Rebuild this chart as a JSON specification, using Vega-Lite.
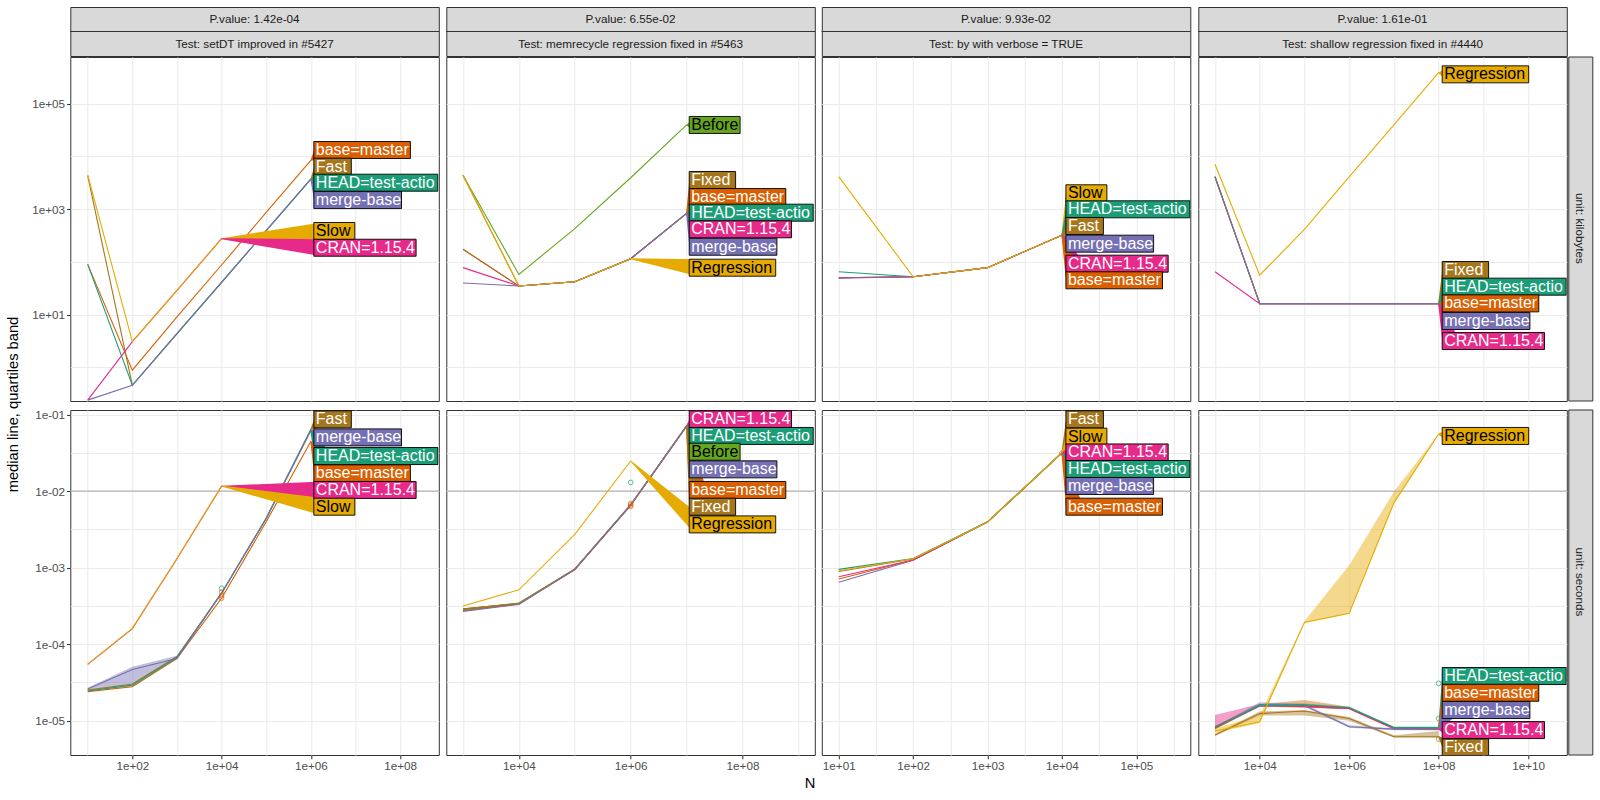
{
"$schema": "https://vega.github.io/schema/vega-lite/v6.json",
"padding": {"left": 6, "top": 6, "right": 4, "bottom": 4},
"spacing": 7.3,
"datasets": {
"strips": [
{"test":"t1","level":"P","strip":"P.value: 1.42e-04"},{"test":"t1","level":"T","strip":"Test: setDT improved in #5427"},
{"test":"t2","level":"P","strip":"P.value: 6.55e-02"},{"test":"t2","level":"T","strip":"Test: memrecycle regression fixed in #5463"},
{"test":"t3","level":"P","strip":"P.value: 9.93e-02"},{"test":"t3","level":"T","strip":"Test: by with verbose = TRUE"},
{"test":"t4","level":"P","strip":"P.value: 1.61e-01"},{"test":"t4","level":"T","strip":"Test: shallow regression fixed in #4440"}
],
"timings": [
{"test":"t1","unit":"kilobytes","version":"base=master","N":10,"median":90},
{"test":"t1","unit":"kilobytes","version":"base=master","N":100,"median":0.89},
{"test":"t1","unit":"kilobytes","version":"base=master","N":1000,"median":9.1},
{"test":"t1","unit":"kilobytes","version":"base=master","N":10000,"median":87.5},
{"test":"t1","unit":"kilobytes","version":"base=master","N":100000,"median":871},
{"test":"t1","unit":"kilobytes","version":"base=master","N":1000000,"median":8450},
{"test":"t1","unit":"kilobytes","version":"Fast","N":10,"median":4300},
{"test":"t1","unit":"kilobytes","version":"Fast","N":100,"median":0.46},
{"test":"t1","unit":"kilobytes","version":"Fast","N":1000,"median":4.36},
{"test":"t1","unit":"kilobytes","version":"Fast","N":10000,"median":41},
{"test":"t1","unit":"kilobytes","version":"Fast","N":100000,"median":391},
{"test":"t1","unit":"kilobytes","version":"Fast","N":1000000,"median":3700},
{"test":"t1","unit":"kilobytes","version":"HEAD=test-action","N":10,"median":90},
{"test":"t1","unit":"kilobytes","version":"HEAD=test-action","N":100,"median":0.46},
{"test":"t1","unit":"kilobytes","version":"HEAD=test-action","N":1000,"median":4.36},
{"test":"t1","unit":"kilobytes","version":"HEAD=test-action","N":10000,"median":41},
{"test":"t1","unit":"kilobytes","version":"HEAD=test-action","N":100000,"median":391},
{"test":"t1","unit":"kilobytes","version":"HEAD=test-action","N":1000000,"median":3700},
{"test":"t1","unit":"kilobytes","version":"merge-base","N":10,"median":0.24},
{"test":"t1","unit":"kilobytes","version":"merge-base","N":100,"median":0.46},
{"test":"t1","unit":"kilobytes","version":"merge-base","N":1000,"median":4.36},
{"test":"t1","unit":"kilobytes","version":"merge-base","N":10000,"median":41},
{"test":"t1","unit":"kilobytes","version":"merge-base","N":100000,"median":391},
{"test":"t1","unit":"kilobytes","version":"merge-base","N":1000000,"median":3700},
{"test":"t1","unit":"kilobytes","version":"CRAN=1.15.4","N":10,"median":0.24},
{"test":"t1","unit":"kilobytes","version":"CRAN=1.15.4","N":100,"median":3.08},
{"test":"t1","unit":"kilobytes","version":"CRAN=1.15.4","N":1000,"median":29},
{"test":"t1","unit":"kilobytes","version":"CRAN=1.15.4","N":10000,"median":276},
{"test":"t1","unit":"kilobytes","version":"Slow","N":10,"median":4450},
{"test":"t1","unit":"kilobytes","version":"Slow","N":100,"median":3.08},
{"test":"t1","unit":"kilobytes","version":"Slow","N":1000,"median":29},
{"test":"t1","unit":"kilobytes","version":"Slow","N":10000,"median":276},
{"test":"t1","unit":"seconds","version":"base=master","N":10,"median":2.4e-5},
{"test":"t1","unit":"seconds","version":"base=master","N":100,"median":2.78e-5},
{"test":"t1","unit":"seconds","version":"base=master","N":1000,"median":6.52e-5},
{"test":"t1","unit":"seconds","version":"base=master","N":10000,"median":3.98e-4},
{"test":"t1","unit":"seconds","version":"base=master","N":100000,"median":3.98e-3},
{"test":"t1","unit":"seconds","version":"base=master","N":1000000,"median":0.0447},
{"test":"t1","unit":"seconds","version":"Fast","N":10,"median":2.51e-5},
{"test":"t1","unit":"seconds","version":"Fast","N":100,"median":3.02e-5},
{"test":"t1","unit":"seconds","version":"Fast","N":1000,"median":6.92e-5},
{"test":"t1","unit":"seconds","version":"Fast","N":10000,"median":4.68e-4},
{"test":"t1","unit":"seconds","version":"Fast","N":100000,"median":4.47e-3},
{"test":"t1","unit":"seconds","version":"Fast","N":1000000,"median":0.0646},
{"test":"t1","unit":"seconds","version":"HEAD=test-action","N":10,"median":2.45e-5},
{"test":"t1","unit":"seconds","version":"HEAD=test-action","N":100,"median":2.92e-5},
{"test":"t1","unit":"seconds","version":"HEAD=test-action","N":1000,"median":6.76e-5},
{"test":"t1","unit":"seconds","version":"HEAD=test-action","N":10000,"median":4.61e-4},
{"test":"t1","unit":"seconds","version":"HEAD=test-action","N":100000,"median":4.37e-3},
{"test":"t1","unit":"seconds","version":"HEAD=test-action","N":1000000,"median":0.0617},
{"test":"t1","unit":"seconds","version":"merge-base","N":10,"median":2.59e-5,"q25":2.51e-5,"q75":2.69e-5},
{"test":"t1","unit":"seconds","version":"merge-base","N":100,"median":4.68e-5,"q25":2.78e-5,"q75":5.08e-5},
{"test":"t1","unit":"seconds","version":"merge-base","N":1000,"median":6.52e-5,"q25":6.31e-5,"q75":7.08e-5},
{"test":"t1","unit":"seconds","version":"merge-base","N":10000,"median":4.68e-4,"q25":4.68e-4,"q75":4.68e-4},
{"test":"t1","unit":"seconds","version":"merge-base","N":100000,"median":4.42e-3,"q25":4.42e-3,"q75":4.42e-3},
{"test":"t1","unit":"seconds","version":"merge-base","N":1000000,"median":0.0631,"q25":0.0631,"q75":0.0631},
{"test":"t1","unit":"seconds","version":"CRAN=1.15.4","N":10,"median":5.45e-5},
{"test":"t1","unit":"seconds","version":"CRAN=1.15.4","N":100,"median":1.6e-4},
{"test":"t1","unit":"seconds","version":"CRAN=1.15.4","N":1000,"median":1.31e-3},
{"test":"t1","unit":"seconds","version":"CRAN=1.15.4","N":10000,"median":0.0116},
{"test":"t1","unit":"seconds","version":"Slow","N":10,"median":5.5e-5},
{"test":"t1","unit":"seconds","version":"Slow","N":100,"median":1.61e-4},
{"test":"t1","unit":"seconds","version":"Slow","N":1000,"median":1.32e-3},
{"test":"t1","unit":"seconds","version":"Slow","N":10000,"median":0.0117},
{"test":"t2","unit":"kilobytes","version":"Before","N":1000,"median":4400},
{"test":"t2","unit":"kilobytes","version":"Before","N":10000,"median":58},
{"test":"t2","unit":"kilobytes","version":"Before","N":100000,"median":427},
{"test":"t2","unit":"kilobytes","version":"Before","N":1000000,"median":3950},
{"test":"t2","unit":"kilobytes","version":"Before","N":10000000,"median":39500},
{"test":"t2","unit":"kilobytes","version":"HEAD=test-action","N":1000,"median":174},
{"test":"t2","unit":"kilobytes","version":"HEAD=test-action","N":10000,"median":35},
{"test":"t2","unit":"kilobytes","version":"HEAD=test-action","N":100000,"median":42},
{"test":"t2","unit":"kilobytes","version":"HEAD=test-action","N":1000000,"median":115},
{"test":"t2","unit":"kilobytes","version":"HEAD=test-action","N":10000000,"median":835},
{"test":"t2","unit":"kilobytes","version":"base=master","N":1000,"median":174},
{"test":"t2","unit":"kilobytes","version":"base=master","N":10000,"median":35},
{"test":"t2","unit":"kilobytes","version":"base=master","N":100000,"median":42},
{"test":"t2","unit":"kilobytes","version":"base=master","N":1000000,"median":115},
{"test":"t2","unit":"kilobytes","version":"base=master","N":10000000,"median":835},
{"test":"t2","unit":"kilobytes","version":"CRAN=1.15.4","N":1000,"median":78},
{"test":"t2","unit":"kilobytes","version":"CRAN=1.15.4","N":10000,"median":35},
{"test":"t2","unit":"kilobytes","version":"CRAN=1.15.4","N":100000,"median":42},
{"test":"t2","unit":"kilobytes","version":"CRAN=1.15.4","N":1000000,"median":115},
{"test":"t2","unit":"kilobytes","version":"CRAN=1.15.4","N":10000000,"median":835},
{"test":"t2","unit":"kilobytes","version":"Fixed","N":1000,"median":4400},
{"test":"t2","unit":"kilobytes","version":"Fixed","N":10000,"median":35},
{"test":"t2","unit":"kilobytes","version":"Fixed","N":100000,"median":42},
{"test":"t2","unit":"kilobytes","version":"Fixed","N":1000000,"median":115},
{"test":"t2","unit":"kilobytes","version":"Fixed","N":10000000,"median":835},
{"test":"t2","unit":"kilobytes","version":"merge-base","N":1000,"median":40},
{"test":"t2","unit":"kilobytes","version":"merge-base","N":10000,"median":35},
{"test":"t2","unit":"kilobytes","version":"merge-base","N":100000,"median":42},
{"test":"t2","unit":"kilobytes","version":"merge-base","N":1000000,"median":115},
{"test":"t2","unit":"kilobytes","version":"merge-base","N":10000000,"median":835},
{"test":"t2","unit":"kilobytes","version":"Regression","N":1000,"median":4400},
{"test":"t2","unit":"kilobytes","version":"Regression","N":10000,"median":35},
{"test":"t2","unit":"kilobytes","version":"Regression","N":100000,"median":42},
{"test":"t2","unit":"kilobytes","version":"Regression","N":1000000,"median":115},
{"test":"t2","unit":"seconds","version":"HEAD=test-action","N":1000,"median":2.82e-4},
{"test":"t2","unit":"seconds","version":"HEAD=test-action","N":10000,"median":3.39e-4},
{"test":"t2","unit":"seconds","version":"HEAD=test-action","N":100000,"median":9.55e-4},
{"test":"t2","unit":"seconds","version":"HEAD=test-action","N":1000000,"median":6.61e-3},
{"test":"t2","unit":"seconds","version":"HEAD=test-action","N":10000000,"median":0.0711},
{"test":"t2","unit":"seconds","version":"base=master","N":1000,"median":2.75e-4},
{"test":"t2","unit":"seconds","version":"base=master","N":10000,"median":3.35e-4},
{"test":"t2","unit":"seconds","version":"base=master","N":100000,"median":9.4e-4},
{"test":"t2","unit":"seconds","version":"base=master","N":1000000,"median":6.5e-3},
{"test":"t2","unit":"seconds","version":"base=master","N":10000000,"median":0.070},
{"test":"t2","unit":"seconds","version":"CRAN=1.15.4","N":1000,"median":2.88e-4},
{"test":"t2","unit":"seconds","version":"CRAN=1.15.4","N":10000,"median":3.42e-4},
{"test":"t2","unit":"seconds","version":"CRAN=1.15.4","N":100000,"median":9.6e-4},
{"test":"t2","unit":"seconds","version":"CRAN=1.15.4","N":1000000,"median":6.7e-3},
{"test":"t2","unit":"seconds","version":"CRAN=1.15.4","N":10000000,"median":0.072},
{"test":"t2","unit":"seconds","version":"Before","N":1000,"median":2.85e-4},
{"test":"t2","unit":"seconds","version":"Before","N":10000,"median":3.45e-4},
{"test":"t2","unit":"seconds","version":"Before","N":100000,"median":9.55e-4},
{"test":"t2","unit":"seconds","version":"Before","N":1000000,"median":6.6e-3},
{"test":"t2","unit":"seconds","version":"Before","N":10000000,"median":0.071},
{"test":"t2","unit":"seconds","version":"Fixed","N":1000,"median":2.9e-4},
{"test":"t2","unit":"seconds","version":"Fixed","N":10000,"median":3.4e-4},
{"test":"t2","unit":"seconds","version":"Fixed","N":100000,"median":9.5e-4},
{"test":"t2","unit":"seconds","version":"Fixed","N":1000000,"median":6.55e-3},
{"test":"t2","unit":"seconds","version":"Fixed","N":10000000,"median":0.0705},
{"test":"t2","unit":"seconds","version":"merge-base","N":1000,"median":2.69e-4},
{"test":"t2","unit":"seconds","version":"merge-base","N":10000,"median":3.31e-4},
{"test":"t2","unit":"seconds","version":"merge-base","N":100000,"median":9.5e-4},
{"test":"t2","unit":"seconds","version":"merge-base","N":1000000,"median":6.6e-3},
{"test":"t2","unit":"seconds","version":"merge-base","N":10000000,"median":0.0715},
{"test":"t2","unit":"seconds","version":"Regression","N":1000,"median":3.16e-4},
{"test":"t2","unit":"seconds","version":"Regression","N":10000,"median":5.13e-4},
{"test":"t2","unit":"seconds","version":"Regression","N":100000,"median":2.72e-3},
{"test":"t2","unit":"seconds","version":"Regression","N":1000000,"median":0.0248},
{"test":"t3","unit":"kilobytes","version":"HEAD=test-action","N":10,"median":65},
{"test":"t3","unit":"kilobytes","version":"HEAD=test-action","N":100,"median":52.5},
{"test":"t3","unit":"kilobytes","version":"HEAD=test-action","N":1000,"median":78},
{"test":"t3","unit":"kilobytes","version":"HEAD=test-action","N":10000,"median":320},
{"test":"t3","unit":"kilobytes","version":"Fast","N":10,"median":50},
{"test":"t3","unit":"kilobytes","version":"Fast","N":100,"median":52.5},
{"test":"t3","unit":"kilobytes","version":"Fast","N":1000,"median":78},
{"test":"t3","unit":"kilobytes","version":"Fast","N":10000,"median":320},
{"test":"t3","unit":"kilobytes","version":"base=master","N":10,"median":50},
{"test":"t3","unit":"kilobytes","version":"base=master","N":100,"median":52.5},
{"test":"t3","unit":"kilobytes","version":"base=master","N":1000,"median":78},
{"test":"t3","unit":"kilobytes","version":"base=master","N":10000,"median":320},
{"test":"t3","unit":"kilobytes","version":"CRAN=1.15.4","N":10,"median":50},
{"test":"t3","unit":"kilobytes","version":"CRAN=1.15.4","N":100,"median":52.5},
{"test":"t3","unit":"kilobytes","version":"CRAN=1.15.4","N":1000,"median":78},
{"test":"t3","unit":"kilobytes","version":"CRAN=1.15.4","N":10000,"median":320},
{"test":"t3","unit":"kilobytes","version":"merge-base","N":10,"median":49},
{"test":"t3","unit":"kilobytes","version":"merge-base","N":100,"median":52.5},
{"test":"t3","unit":"kilobytes","version":"merge-base","N":1000,"median":78},
{"test":"t3","unit":"kilobytes","version":"merge-base","N":10000,"median":320},
{"test":"t3","unit":"kilobytes","version":"Slow","N":10,"median":4130},
{"test":"t3","unit":"kilobytes","version":"Slow","N":100,"median":52.5},
{"test":"t3","unit":"kilobytes","version":"Slow","N":1000,"median":78},
{"test":"t3","unit":"kilobytes","version":"Slow","N":10000,"median":320},
{"test":"t3","unit":"seconds","version":"merge-base","N":10,"median":6.46e-4},
{"test":"t3","unit":"seconds","version":"merge-base","N":100,"median":1.25e-3},
{"test":"t3","unit":"seconds","version":"merge-base","N":1000,"median":3.95e-3},
{"test":"t3","unit":"seconds","version":"merge-base","N":10000,"median":0.0316},
{"test":"t3","unit":"seconds","version":"base=master","N":10,"median":7.1e-4},
{"test":"t3","unit":"seconds","version":"base=master","N":100,"median":1.26e-3},
{"test":"t3","unit":"seconds","version":"base=master","N":1000,"median":3.95e-3},
{"test":"t3","unit":"seconds","version":"base=master","N":10000,"median":0.0316},
{"test":"t3","unit":"seconds","version":"CRAN=1.15.4","N":10,"median":7.6e-4},
{"test":"t3","unit":"seconds","version":"CRAN=1.15.4","N":100,"median":1.26e-3},
{"test":"t3","unit":"seconds","version":"CRAN=1.15.4","N":1000,"median":3.98e-3},
{"test":"t3","unit":"seconds","version":"CRAN=1.15.4","N":10000,"median":0.0318},
{"test":"t3","unit":"seconds","version":"Fast","N":10,"median":8.9e-4},
{"test":"t3","unit":"seconds","version":"Fast","N":100,"median":1.3e-3},
{"test":"t3","unit":"seconds","version":"Fast","N":1000,"median":3.97e-3},
{"test":"t3","unit":"seconds","version":"Fast","N":10000,"median":0.0318},
{"test":"t3","unit":"seconds","version":"HEAD=test-action","N":10,"median":9.5e-4},
{"test":"t3","unit":"seconds","version":"HEAD=test-action","N":100,"median":1.32e-3},
{"test":"t3","unit":"seconds","version":"HEAD=test-action","N":1000,"median":3.98e-3},
{"test":"t3","unit":"seconds","version":"HEAD=test-action","N":10000,"median":0.0318},
{"test":"t3","unit":"seconds","version":"Slow","N":10,"median":9.12e-4},
{"test":"t3","unit":"seconds","version":"Slow","N":100,"median":1.31e-3},
{"test":"t3","unit":"seconds","version":"Slow","N":1000,"median":3.96e-3},
{"test":"t3","unit":"seconds","version":"Slow","N":10000,"median":0.0318},
{"test":"t4","unit":"kilobytes","version":"HEAD=test-action","N":1000,"median":4130},
{"test":"t4","unit":"kilobytes","version":"HEAD=test-action","N":10000,"median":16.2},
{"test":"t4","unit":"kilobytes","version":"HEAD=test-action","N":100000,"median":16.2},
{"test":"t4","unit":"kilobytes","version":"HEAD=test-action","N":1000000,"median":16.2},
{"test":"t4","unit":"kilobytes","version":"HEAD=test-action","N":10000000,"median":16.2},
{"test":"t4","unit":"kilobytes","version":"HEAD=test-action","N":100000000,"median":16.2},
{"test":"t4","unit":"kilobytes","version":"base=master","N":1000,"median":4130},
{"test":"t4","unit":"kilobytes","version":"base=master","N":10000,"median":16.2},
{"test":"t4","unit":"kilobytes","version":"base=master","N":100000,"median":16.2},
{"test":"t4","unit":"kilobytes","version":"base=master","N":1000000,"median":16.2},
{"test":"t4","unit":"kilobytes","version":"base=master","N":10000000,"median":16.2},
{"test":"t4","unit":"kilobytes","version":"base=master","N":100000000,"median":16.2},
{"test":"t4","unit":"kilobytes","version":"Fixed","N":1000,"median":4130},
{"test":"t4","unit":"kilobytes","version":"Fixed","N":10000,"median":16.2},
{"test":"t4","unit":"kilobytes","version":"Fixed","N":100000,"median":16.2},
{"test":"t4","unit":"kilobytes","version":"Fixed","N":1000000,"median":16.2},
{"test":"t4","unit":"kilobytes","version":"Fixed","N":10000000,"median":16.2},
{"test":"t4","unit":"kilobytes","version":"Fixed","N":100000000,"median":16.2},
{"test":"t4","unit":"kilobytes","version":"CRAN=1.15.4","N":1000,"median":65},
{"test":"t4","unit":"kilobytes","version":"CRAN=1.15.4","N":10000,"median":16.2},
{"test":"t4","unit":"kilobytes","version":"CRAN=1.15.4","N":100000,"median":16.2},
{"test":"t4","unit":"kilobytes","version":"CRAN=1.15.4","N":1000000,"median":16.2},
{"test":"t4","unit":"kilobytes","version":"CRAN=1.15.4","N":10000000,"median":16.2},
{"test":"t4","unit":"kilobytes","version":"CRAN=1.15.4","N":100000000,"median":16.2},
{"test":"t4","unit":"kilobytes","version":"merge-base","N":1000,"median":4130},
{"test":"t4","unit":"kilobytes","version":"merge-base","N":10000,"median":16.2},
{"test":"t4","unit":"kilobytes","version":"merge-base","N":100000,"median":16.2},
{"test":"t4","unit":"kilobytes","version":"merge-base","N":1000000,"median":16.2},
{"test":"t4","unit":"kilobytes","version":"merge-base","N":10000000,"median":16.2},
{"test":"t4","unit":"kilobytes","version":"merge-base","N":100000000,"median":16.2},
{"test":"t4","unit":"kilobytes","version":"Regression","N":1000,"median":7100},
{"test":"t4","unit":"kilobytes","version":"Regression","N":10000,"median":56},
{"test":"t4","unit":"kilobytes","version":"Regression","N":100000,"median":416},
{"test":"t4","unit":"kilobytes","version":"Regression","N":1000000,"median":4090},
{"test":"t4","unit":"kilobytes","version":"Regression","N":10000000,"median":39800},
{"test":"t4","unit":"kilobytes","version":"Regression","N":100000000,"median":387000},
{"test":"t4","unit":"seconds","version":"Fixed","N":1000,"median":6.5e-6,"q25":6.3e-6,"q75":6.7e-6},
{"test":"t4","unit":"seconds","version":"Fixed","N":10000,"median":1.24e-5,"q25":1.17e-5,"q75":1.32e-5},
{"test":"t4","unit":"seconds","version":"Fixed","N":100000,"median":1.34e-5,"q25":1.17e-5,"q75":1.38e-5},
{"test":"t4","unit":"seconds","version":"Fixed","N":1000000,"median":1.07e-5,"q25":1.0e-5,"q75":1.12e-5},
{"test":"t4","unit":"seconds","version":"Fixed","N":10000000,"median":6.17e-6,"q25":6.03e-6,"q75":6.46e-6},
{"test":"t4","unit":"seconds","version":"Fixed","N":100000000,"median":6.17e-6,"q25":6.03e-6,"q75":7.33e-6},
{"test":"t4","unit":"seconds","version":"base=master","N":1000,"median":7.94e-6,"q25":7.7e-6,"q75":8.2e-6},
{"test":"t4","unit":"seconds","version":"base=master","N":10000,"median":1.58e-5,"q25":1.53e-5,"q75":1.65e-5},
{"test":"t4","unit":"seconds","version":"base=master","N":100000,"median":1.52e-5,"q25":1.48e-5,"q75":1.86e-5},
{"test":"t4","unit":"seconds","version":"base=master","N":1000000,"median":1.45e-5,"q25":1.41e-5,"q75":1.52e-5},
{"test":"t4","unit":"seconds","version":"base=master","N":10000000,"median":7.94e-6,"q25":7.7e-6,"q75":8.2e-6},
{"test":"t4","unit":"seconds","version":"base=master","N":100000000,"median":7.94e-6,"q25":7.7e-6,"q75":8.2e-6},
{"test":"t4","unit":"seconds","version":"CRAN=1.15.4","N":1000,"median":8.32e-6,"q25":7.94e-6,"q75":1.19e-5},
{"test":"t4","unit":"seconds","version":"CRAN=1.15.4","N":10000,"median":1.58e-5,"q25":1.53e-5,"q75":1.65e-5},
{"test":"t4","unit":"seconds","version":"CRAN=1.15.4","N":100000,"median":1.55e-5,"q25":1.5e-5,"q75":1.62e-5},
{"test":"t4","unit":"seconds","version":"CRAN=1.15.4","N":1000000,"median":1.45e-5,"q25":1.41e-5,"q75":1.5e-5},
{"test":"t4","unit":"seconds","version":"CRAN=1.15.4","N":10000000,"median":7.94e-6,"q25":7.7e-6,"q75":8.2e-6},
{"test":"t4","unit":"seconds","version":"CRAN=1.15.4","N":100000000,"median":7.76e-6,"q25":7.5e-6,"q75":8.0e-6},
{"test":"t4","unit":"seconds","version":"merge-base","N":1000,"median":8.13e-6,"q25":7.9e-6,"q75":8.4e-6},
{"test":"t4","unit":"seconds","version":"merge-base","N":10000,"median":1.58e-5,"q25":1.51e-5,"q75":1.74e-5},
{"test":"t4","unit":"seconds","version":"merge-base","N":100000,"median":1.58e-5,"q25":1.53e-5,"q75":1.66e-5},
{"test":"t4","unit":"seconds","version":"merge-base","N":1000000,"median":8.36e-6,"q25":8.1e-6,"q75":8.7e-6},
{"test":"t4","unit":"seconds","version":"merge-base","N":10000000,"median":7.76e-6,"q25":7.5e-6,"q75":8.0e-6},
{"test":"t4","unit":"seconds","version":"merge-base","N":100000000,"median":7.76e-6,"q25":7.5e-6,"q75":8.0e-6},
{"test":"t4","unit":"seconds","version":"HEAD=test-action","N":1000,"median":8.13e-6,"q25":7.9e-6,"q75":8.4e-6},
{"test":"t4","unit":"seconds","version":"HEAD=test-action","N":10000,"median":1.6e-5,"q25":1.55e-5,"q75":1.66e-5},
{"test":"t4","unit":"seconds","version":"HEAD=test-action","N":100000,"median":1.62e-5,"q25":1.57e-5,"q75":1.68e-5},
{"test":"t4","unit":"seconds","version":"HEAD=test-action","N":1000000,"median":1.48e-5,"q25":1.44e-5,"q75":1.53e-5},
{"test":"t4","unit":"seconds","version":"HEAD=test-action","N":10000000,"median":8.13e-6,"q25":7.9e-6,"q75":8.4e-6},
{"test":"t4","unit":"seconds","version":"HEAD=test-action","N":100000000,"median":8.13e-6,"q25":7.9e-6,"q75":8.4e-6},
{"test":"t4","unit":"seconds","version":"Regression","N":1000,"median":7.33e-6,"q25":6.92e-6,"q75":7.94e-6},
{"test":"t4","unit":"seconds","version":"Regression","N":10000,"median":9.7e-6,"q25":9.33e-6,"q75":1.17e-5},
{"test":"t4","unit":"seconds","version":"Regression","N":100000,"median":1.93e-4,"q25":1.91e-4,"q75":2.0e-4},
{"test":"t4","unit":"seconds","version":"Regression","N":1000000,"median":2.53e-4,"q25":2.51e-4,"q75":1.08e-3},
{"test":"t4","unit":"seconds","version":"Regression","N":10000000,"median":7.08e-3,"q25":6.76e-3,"q75":9.86e-3},
{"test":"t4","unit":"seconds","version":"Regression","N":100000000,"median":0.0558,"q25":0.055,"q75":0.0562}
],
"labels": [
{"test":"t1","unit":"kilobytes","version":"base=master","tipN":1000000,"tipY":8450,"boxN":1810000,"boxY":13240},
{"test":"t1","unit":"kilobytes","version":"Fast","tipN":1000000,"tipY":3700,"boxN":1810000,"boxY":6400},
{"test":"t1","unit":"kilobytes","version":"HEAD=test-action","tipN":1000000,"tipY":3700,"boxN":1810000,"boxY":3180},
{"test":"t1","unit":"kilobytes","version":"merge-base","tipN":1000000,"tipY":3700,"boxN":1810000,"boxY":1490},
{"test":"t1","unit":"kilobytes","version":"Slow","tipN":10000,"tipY":276,"boxN":1810000,"boxY":386},
{"test":"t1","unit":"kilobytes","version":"CRAN=1.15.4","tipN":10000,"tipY":276,"boxN":1810000,"boxY":186},
{"test":"t1","unit":"seconds","version":"Fast","tipN":1000000,"tipY":0.0646,"boxN":1810000,"boxY":0.0869},
{"test":"t1","unit":"seconds","version":"merge-base","tipN":1000000,"tipY":0.0631,"boxN":1810000,"boxY":0.0505},
{"test":"t1","unit":"seconds","version":"HEAD=test-action","tipN":1000000,"tipY":0.0617,"boxN":1810000,"boxY":0.0288},
{"test":"t1","unit":"seconds","version":"base=master","tipN":1000000,"tipY":0.0447,"boxN":1810000,"boxY":0.0171},
{"test":"t1","unit":"seconds","version":"CRAN=1.15.4","tipN":10000,"tipY":0.0116,"boxN":1810000,"boxY":0.01037},
{"test":"t1","unit":"seconds","version":"Slow","tipN":10000,"tipY":0.0117,"boxN":1810000,"boxY":0.00627},
{"test":"t2","unit":"kilobytes","version":"Before","tipN":10000000,"tipY":39500,"boxN":15800000,"boxY":39500},
{"test":"t2","unit":"kilobytes","version":"Fixed","tipN":10000000,"tipY":835,"boxN":15800000,"boxY":3580},
{"test":"t2","unit":"kilobytes","version":"base=master","tipN":10000000,"tipY":835,"boxN":15800000,"boxY":1700},
{"test":"t2","unit":"kilobytes","version":"HEAD=test-action","tipN":10000000,"tipY":835,"boxN":15800000,"boxY":859},
{"test":"t2","unit":"kilobytes","version":"CRAN=1.15.4","tipN":10000000,"tipY":835,"boxN":15800000,"boxY":416},
{"test":"t2","unit":"kilobytes","version":"merge-base","tipN":10000000,"tipY":835,"boxN":15800000,"boxY":194},
{"test":"t2","unit":"kilobytes","version":"Regression","tipN":1000000,"tipY":115,"boxN":15800000,"boxY":77.8},
{"test":"t2","unit":"seconds","version":"CRAN=1.15.4","tipN":10000000,"tipY":0.072,"boxN":15800000,"boxY":0.0869},
{"test":"t2","unit":"seconds","version":"HEAD=test-action","tipN":10000000,"tipY":0.0711,"boxN":15800000,"boxY":0.0527},
{"test":"t2","unit":"seconds","version":"Before","tipN":10000000,"tipY":0.071,"boxN":15800000,"boxY":0.0328},
{"test":"t2","unit":"seconds","version":"merge-base","tipN":10000000,"tipY":0.0715,"boxN":15800000,"boxY":0.0193},
{"test":"t2","unit":"seconds","version":"base=master","tipN":10000000,"tipY":0.070,"boxN":15800000,"boxY":0.01037},
{"test":"t2","unit":"seconds","version":"Fixed","tipN":10000000,"tipY":0.0705,"boxN":15800000,"boxY":0.00627},
{"test":"t2","unit":"seconds","version":"Regression","tipN":1000000,"tipY":0.0248,"boxN":15800000,"boxY":0.00368},
{"test":"t3","unit":"kilobytes","version":"Slow","tipN":10000,"tipY":320,"boxN":14700,"boxY":2000},
{"test":"t3","unit":"kilobytes","version":"HEAD=test-action","tipN":10000,"tipY":320,"boxN":14700,"boxY":995},
{"test":"t3","unit":"kilobytes","version":"Fast","tipN":10000,"tipY":320,"boxN":14700,"boxY":481},
{"test":"t3","unit":"kilobytes","version":"merge-base","tipN":10000,"tipY":320,"boxN":14700,"boxY":222},
{"test":"t3","unit":"kilobytes","version":"CRAN=1.15.4","tipN":10000,"tipY":320,"boxN":14700,"boxY":92.7},
{"test":"t3","unit":"kilobytes","version":"base=master","tipN":10000,"tipY":320,"boxN":14700,"boxY":44.9},
{"test":"t3","unit":"seconds","version":"Fast","tipN":10000,"tipY":0.0318,"boxN":14700,"boxY":0.0869},
{"test":"t3","unit":"seconds","version":"Slow","tipN":10000,"tipY":0.0318,"boxN":14700,"boxY":0.0516},
{"test":"t3","unit":"seconds","version":"CRAN=1.15.4","tipN":10000,"tipY":0.0318,"boxN":14700,"boxY":0.0321},
{"test":"t3","unit":"seconds","version":"HEAD=test-action","tipN":10000,"tipY":0.0318,"boxN":14700,"boxY":0.0195},
{"test":"t3","unit":"seconds","version":"merge-base","tipN":10000,"tipY":0.0316,"boxN":14700,"boxY":0.0117},
{"test":"t3","unit":"seconds","version":"base=master","tipN":10000,"tipY":0.0316,"boxN":14700,"boxY":0.00627},
{"test":"t4","unit":"kilobytes","version":"Regression","tipN":100000000,"tipY":387000,"boxN":186000000,"boxY":360000},
{"test":"t4","unit":"kilobytes","version":"Fixed","tipN":100000000,"tipY":16.2,"boxN":186000000,"boxY":70.3},
{"test":"t4","unit":"kilobytes","version":"HEAD=test-action","tipN":100000000,"tipY":16.2,"boxN":186000000,"boxY":34},
{"test":"t4","unit":"kilobytes","version":"base=master","tipN":100000000,"tipY":16.2,"boxN":186000000,"boxY":16.4},
{"test":"t4","unit":"kilobytes","version":"merge-base","tipN":100000000,"tipY":16.2,"boxN":186000000,"boxY":7.6},
{"test":"t4","unit":"kilobytes","version":"CRAN=1.15.4","tipN":100000000,"tipY":16.2,"boxN":186000000,"boxY":3.17},
{"test":"t4","unit":"seconds","version":"Regression","tipN":100000000,"tipY":0.0558,"boxN":186000000,"boxY":0.0527},
{"test":"t4","unit":"seconds","version":"HEAD=test-action","tipN":100000000,"tipY":8.13e-6,"boxN":186000000,"boxY":3.84e-5},
{"test":"t4","unit":"seconds","version":"base=master","tipN":100000000,"tipY":7.94e-6,"boxN":186000000,"boxY":2.32e-5},
{"test":"t4","unit":"seconds","version":"merge-base","tipN":100000000,"tipY":7.76e-6,"boxN":186000000,"boxY":1.38e-5},
{"test":"t4","unit":"seconds","version":"CRAN=1.15.4","tipN":100000000,"tipY":7.76e-6,"boxN":186000000,"boxY":7.55e-6},
{"test":"t4","unit":"seconds","version":"Fixed","tipN":100000000,"tipY":6.17e-6,"boxN":186000000,"boxY":4.48e-6}
],
"points": [
{"test":"t1","unit":"seconds","version":"HEAD=test-action","N":10000,"value":5.37e-4},
{"test":"t1","unit":"seconds","version":"base=master","N":10000,"value":4.8e-4},
{"test":"t1","unit":"seconds","version":"base=master","N":10000,"value":4.3e-4},
{"test":"t1","unit":"seconds","version":"base=master","N":10000,"value":4.0e-4},
{"test":"t2","unit":"seconds","version":"HEAD=test-action","N":1000000,"value":0.013},
{"test":"t2","unit":"seconds","version":"base=master","N":1000000,"value":0.0063},
{"test":"t2","unit":"seconds","version":"base=master","N":1000000,"value":0.0066},
{"test":"t2","unit":"seconds","version":"base=master","N":1000000,"value":0.0069},
{"test":"t3","unit":"seconds","version":"base=master","N":10000,"value":0.0316},
{"test":"t4","unit":"seconds","version":"HEAD=test-action","N":100000000,"value":3.08e-5},
{"test":"t4","unit":"seconds","version":"HEAD=test-action","N":100000000,"value":1.07e-5},
{"test":"t4","unit":"seconds","version":"Fixed","N":100000000,"value":5.75e-6}
]
},
"hconcat": [
{"vconcat": [
  {"width":16,"height":49,"view":{"stroke":null},"data":{"values":[{"t":""}]},"mark":"text","encoding":{"text":{"field":"t"}}},
  {"width":16,"height":697,"view":{"stroke":null},"data":{"values":[{"t":"median line, quartiles band"}]},"mark":{"type":"text","angle":270,"fontSize":14.7,"color":"#000000"},"encoding":{"text":{"field":"t"}}}
 ], "spacing": 0},
{"hconcat": [
 {"vconcat": [
  {"width":368.5,"height":49,"data":{"name":"strips"},"transform":[{"filter":"datum.test == 't1'"}],"view":{"fill":"#D9D9D9","stroke":"#333333"},
   "layer":[
    {"mark":{"type":"rule","color":"#333333","strokeWidth":1},"encoding":{"y":{"datum":"T","type":"nominal","bandPosition":0,"scale":{"type":"band","domain":["P","T"],"paddingInner":0,"paddingOuter":0}}}},
    {"mark":{"type":"text","fontSize":11.7,"color":"#1A1A1A"},"encoding":{"y":{"field":"level","type":"nominal","axis":{"labels":false,"ticks":false,"grid":false,"domain":false,"title":null,"minExtent":40,"maxExtent":40}},"text":{"field":"strip"}}}
   ]},
  {"vconcat": [
   {"width":368.5,"height":344,"layer":[
    {"data":{"name":"timings"},"transform":[{"filter":"datum.test == 't1' && datum.unit == 'kilobytes'"}],"mark":{"type":"line","strokeWidth":1.1,"clip":true},
     "encoding":{"x":{"field":"N","type":"quantitative","scale":{"type":"log","domain":[4.07,738000000],"nice":false},"axis":{"values":[10,100,1000,10000,100000,1000000,10000000,100000000],"labels":false,"ticks":false,"title":null,"minExtent":0,"maxExtent":0}},
      "y":{"field":"median","type":"quantitative","scale":{"type":"log","domain":[0.2312,767400],"nice":false},"axis":{"values":[1,10,100,1000,10000,100000],"labelExpr":"round(log(datum.value)/LN10) % 2 == 1 ? '1e+0' + round(log(datum.value)/LN10) : ''","tickOpacity":{"condition":{"test":"round(log(datum.value)/LN10) % 2 == 1","value":1},"value":0},"title":null,"minExtent":40,"maxExtent":40}},
      "color":{"field":"version","type":"nominal","scale":{"domain":["HEAD=test-action","base=master","merge-base","CRAN=1.15.4","Before","Regression","Fixed","Slow","Fast"],"range":["#1B9E77","#D95F02","#7570B3","#E7298A","#66A61E","#E6AB02","#A6761D","#E6AB02","#A6761D"]},"legend":null}}},
    {"data":{"name":"labels"},"transform":[{"filter":"datum.test == 't1' && datum.unit == 'kilobytes'"},{"fold":["tipN","boxN"],"as":["endN","px"]},{"fold":["tipY","boxY"],"as":["endY","py"]},{"filter":"(datum.endN == 'tipN' && datum.endY == 'tipY') || (datum.endN == 'boxN' && datum.endY == 'boxY')"}],
     "mark":{"type":"trail","clip":true},
     "encoding":{"x":{"field":"px","type":"quantitative"},"y":{"field":"py","type":"quantitative"},"size":{"field":"endN","type":"ordinal","scale":{"domain":["tipN","boxN"],"range":[0,17]},"legend":null},"color":{"field":"version","type":"nominal","legend":null},"detail":{"field":"version","type":"nominal"}}},
    {"data":{"name":"labels"},"transform":[{"filter":"datum.test == 't1' && datum.unit == 'kilobytes'"}],
     "mark":{"type":"rect","clip":true,"stroke":"#000000","strokeWidth":0.9,"xOffset":-8.5,"yOffset":-8.5,"y2Offset":8.5,"x2Offset":{"expr":"min(115.5, 8.9*length(datum.version) - 4.4*length(replace(datum.version, regexp('[^-filrt.]','g'), '')) + 2.3*length(replace(datum.version, regexp('[^A-Z]','g'), '')) + 3.5*length(replace(datum.version, regexp('[^mw]','g'), '')) - 4.5)"}},
     "encoding":{"x":{"field":"boxN","type":"quantitative"},"x2":{"field":"boxN"},"y":{"field":"boxY","type":"quantitative"},"y2":{"field":"boxY"},"color":{"field":"version","type":"nominal","legend":null}}},
    {"data":{"name":"labels"},"transform":[{"filter":"datum.test == 't1' && datum.unit == 'kilobytes'"}],
     "mark":{"type":"text","clip":true,"align":"left","baseline":"middle","dx":-6.5,"fontSize":16,"limit":122,"ellipsis":"\u200b"},
     "encoding":{"x":{"field":"boxN","type":"quantitative"},"y":{"field":"boxY","type":"quantitative"},"text":{"field":"version"},"color":{"condition":{"test":"datum.version == 'Slow' || datum.version == 'Regression' || datum.version == 'Before'","value":"#000000"},"value":"#FFFFFF"}}}
   ]},
   {"width":368.5,"height":345,"layer":[
    {"data":{"name":"timings"},"transform":[{"filter":"datum.test == 't1' && datum.unit == 'seconds' && isValid(datum.q25)"}],"mark":{"type":"area","opacity":0.45,"clip":true},
     "encoding":{"x":{"field":"N","type":"quantitative","scale":{"type":"log","domain":[4.07,738000000],"nice":false},"axis":{"values":[10,100,1000,10000,100000,1000000,10000000,100000000],"labelExpr":"round(log(datum.value)/LN10) % 2 == 0 ? '1e+0' + round(log(datum.value)/LN10) : ''","tickOpacity":{"condition":{"test":"round(log(datum.value)/LN10) % 2 == 0","value":1},"value":0},"title":null}},
      "y":{"field":"q25","type":"quantitative","scale":{"type":"log","domain":[0.000003565,0.1151],"nice":false},"axis":{"values":[0.00001,0.000031623,0.0001,0.00031623,0.001,0.0031623,0.01,0.031623,0.1],"labelExpr":"abs(log(datum.value)/LN10 - round(log(datum.value)/LN10)) < 0.01 ? '1e-0' + abs(round(log(datum.value)/LN10)) : ''","tickOpacity":{"condition":{"test":"abs(log(datum.value)/LN10 - round(log(datum.value)/LN10)) < 0.01","value":1},"value":0},"title":null,"minExtent":40,"maxExtent":40}},
      "y2":{"field":"q75"},
      "color":{"field":"version","type":"nominal","scale":{"domain":["HEAD=test-action","base=master","merge-base","CRAN=1.15.4","Before","Regression","Fixed","Slow","Fast"],"range":["#1B9E77","#D95F02","#7570B3","#E7298A","#66A61E","#E6AB02","#A6761D","#E6AB02","#A6761D"]},"legend":null}}},
    {"data":{"values":[{}]},"mark":{"type":"rule","color":"#B3B3B3","strokeWidth":1.2},"encoding":{"y":{"datum":0.01}}},
    {"data":{"name":"timings"},"transform":[{"filter":"datum.test == 't1' && datum.unit == 'seconds'"}],"mark":{"type":"line","strokeWidth":1.1,"clip":true},
     "encoding":{"x":{"field":"N","type":"quantitative"},"y":{"field":"median","type":"quantitative"},"color":{"field":"version","type":"nominal","legend":null}}},
    {"data":{"name":"points"},"transform":[{"filter":"datum.test == 't1'"}],"mark":{"type":"point","shape":"circle","filled":false,"size":22,"strokeWidth":1,"clip":true},
     "encoding":{"x":{"field":"N","type":"quantitative"},"y":{"field":"value","type":"quantitative"},"color":{"field":"version","type":"nominal","legend":null}}},
    {"data":{"name":"labels"},"transform":[{"filter":"datum.test == 't1' && datum.unit == 'seconds'"},{"fold":["tipN","boxN"],"as":["endN","px"]},{"fold":["tipY","boxY"],"as":["endY","py"]},{"filter":"(datum.endN == 'tipN' && datum.endY == 'tipY') || (datum.endN == 'boxN' && datum.endY == 'boxY')"}],
     "mark":{"type":"trail","clip":true},
     "encoding":{"x":{"field":"px","type":"quantitative"},"y":{"field":"py","type":"quantitative"},"size":{"field":"endN","type":"ordinal","scale":{"domain":["tipN","boxN"],"range":[0,17]},"legend":null},"color":{"field":"version","type":"nominal","legend":null},"detail":{"field":"version","type":"nominal"}}},
    {"data":{"name":"labels"},"transform":[{"filter":"datum.test == 't1' && datum.unit == 'seconds'"}],
     "mark":{"type":"rect","clip":true,"stroke":"#000000","strokeWidth":0.9,"xOffset":-8.5,"yOffset":-8.5,"y2Offset":8.5,"x2Offset":{"expr":"min(115.5, 8.9*length(datum.version) - 4.4*length(replace(datum.version, regexp('[^-filrt.]','g'), '')) + 2.3*length(replace(datum.version, regexp('[^A-Z]','g'), '')) + 3.5*length(replace(datum.version, regexp('[^mw]','g'), '')) - 4.5)"}},
     "encoding":{"x":{"field":"boxN","type":"quantitative"},"x2":{"field":"boxN"},"y":{"field":"boxY","type":"quantitative"},"y2":{"field":"boxY"},"color":{"field":"version","type":"nominal","legend":null}}},
    {"data":{"name":"labels"},"transform":[{"filter":"datum.test == 't1' && datum.unit == 'seconds'"}],
     "mark":{"type":"text","clip":true,"align":"left","baseline":"middle","dx":-6.5,"fontSize":16,"limit":122,"ellipsis":"\u200b"},
     "encoding":{"x":{"field":"boxN","type":"quantitative"},"y":{"field":"boxY","type":"quantitative"},"text":{"field":"version"},"color":{"condition":{"test":"datum.version == 'Slow' || datum.version == 'Regression' || datum.version == 'Before'","value":"#000000"},"value":"#FFFFFF"}}}
   ]}
  ], "spacing": 7}
 ], "spacing": -1},
 {"hconcat": [
 {"vconcat": [
  {"width":368.5,"height":49,"data":{"name":"strips"},"transform":[{"filter":"datum.test == 't2'"}],"view":{"fill":"#D9D9D9","stroke":"#333333"},
   "layer":[
    {"mark":{"type":"rule","color":"#333333","strokeWidth":1},"encoding":{"y":{"datum":"T","type":"nominal","bandPosition":0,"scale":{"type":"band","domain":["P","T"],"paddingInner":0,"paddingOuter":0},"axis":null}}},
    {"mark":{"type":"text","fontSize":11.7,"color":"#1A1A1A"},"encoding":{"y":{"field":"level","type":"nominal","axis":null},"text":{"field":"strip"}}}
   ]},
  {"vconcat": [
   {"width":368.5,"height":344,"layer":[
    {"data":{"name":"timings"},"transform":[{"filter":"datum.test == 't2' && datum.unit == 'kilobytes'"}],"mark":{"type":"line","strokeWidth":1.1,"clip":true},
     "encoding":{"x":{"field":"N","type":"quantitative","scale":{"type":"log","domain":[503.5,1963000000],"nice":false},"axis":{"values":[1000,10000,100000,1000000,10000000,100000000,1000000000],"labels":false,"ticks":false,"title":null,"minExtent":0,"maxExtent":0}},
      "y":{"field":"median","type":"quantitative","scale":{"type":"log","domain":[0.2312,767400],"nice":false},"axis":{"values":[1,10,100,1000,10000,100000],"labels":false,"ticks":false,"title":null,"minExtent":0,"maxExtent":0}},
      "color":{"field":"version","type":"nominal","scale":{"domain":["HEAD=test-action","base=master","merge-base","CRAN=1.15.4","Before","Regression","Fixed","Slow","Fast"],"range":["#1B9E77","#D95F02","#7570B3","#E7298A","#66A61E","#E6AB02","#A6761D","#E6AB02","#A6761D"]},"legend":null}}},
    {"data":{"name":"labels"},"transform":[{"filter":"datum.test == 't2' && datum.unit == 'kilobytes'"},{"fold":["tipN","boxN"],"as":["endN","px"]},{"fold":["tipY","boxY"],"as":["endY","py"]},{"filter":"(datum.endN == 'tipN' && datum.endY == 'tipY') || (datum.endN == 'boxN' && datum.endY == 'boxY')"}],
     "mark":{"type":"trail","clip":true},
     "encoding":{"x":{"field":"px","type":"quantitative"},"y":{"field":"py","type":"quantitative"},"size":{"field":"endN","type":"ordinal","scale":{"domain":["tipN","boxN"],"range":[0,17]},"legend":null},"color":{"field":"version","type":"nominal","legend":null},"detail":{"field":"version","type":"nominal"}}},
    {"data":{"name":"labels"},"transform":[{"filter":"datum.test == 't2' && datum.unit == 'kilobytes'"}],
     "mark":{"type":"rect","clip":true,"stroke":"#000000","strokeWidth":0.9,"xOffset":-8.5,"yOffset":-8.5,"y2Offset":8.5,"x2Offset":{"expr":"min(115.5, 8.9*length(datum.version) - 4.4*length(replace(datum.version, regexp('[^-filrt.]','g'), '')) + 2.3*length(replace(datum.version, regexp('[^A-Z]','g'), '')) + 3.5*length(replace(datum.version, regexp('[^mw]','g'), '')) - 4.5)"}},
     "encoding":{"x":{"field":"boxN","type":"quantitative"},"x2":{"field":"boxN"},"y":{"field":"boxY","type":"quantitative"},"y2":{"field":"boxY"},"color":{"field":"version","type":"nominal","legend":null}}},
    {"data":{"name":"labels"},"transform":[{"filter":"datum.test == 't2' && datum.unit == 'kilobytes'"}],
     "mark":{"type":"text","clip":true,"align":"left","baseline":"middle","dx":-6.5,"fontSize":16,"limit":122,"ellipsis":"\u200b"},
     "encoding":{"x":{"field":"boxN","type":"quantitative"},"y":{"field":"boxY","type":"quantitative"},"text":{"field":"version"},"color":{"condition":{"test":"datum.version == 'Slow' || datum.version == 'Regression' || datum.version == 'Before'","value":"#000000"},"value":"#FFFFFF"}}}
   ]},
   {"width":368.5,"height":345,"layer":[
    {"data":{"values":[{}]},"mark":{"type":"rule","color":"#B3B3B3","strokeWidth":1.2},
     "encoding":{"y":{"datum":0.01,"type":"quantitative","scale":{"type":"log","domain":[0.000003565,0.1151],"nice":false},"axis":{"values":[0.00001,0.000031623,0.0001,0.00031623,0.001,0.0031623,0.01,0.031623,0.1],"labels":false,"ticks":false,"title":null,"minExtent":0,"maxExtent":0}}}},
    {"data":{"name":"timings"},"transform":[{"filter":"datum.test == 't2' && datum.unit == 'seconds'"}],"mark":{"type":"line","strokeWidth":1.1,"clip":true},
     "encoding":{"x":{"field":"N","type":"quantitative","scale":{"type":"log","domain":[503.5,1963000000],"nice":false},"axis":{"values":[1000,10000,100000,1000000,10000000,100000000,1000000000],"labelExpr":"round(log(datum.value)/LN10) % 2 == 0 ? '1e+0' + round(log(datum.value)/LN10) : ''","tickOpacity":{"condition":{"test":"round(log(datum.value)/LN10) % 2 == 0","value":1},"value":0},"title":"N","titleX":363.2,"titleY":28.4,"titleAlign":"center","titleBaseline":"middle"}},
      "y":{"field":"median","type":"quantitative"},
      "color":{"field":"version","type":"nominal","scale":{"domain":["HEAD=test-action","base=master","merge-base","CRAN=1.15.4","Before","Regression","Fixed","Slow","Fast"],"range":["#1B9E77","#D95F02","#7570B3","#E7298A","#66A61E","#E6AB02","#A6761D","#E6AB02","#A6761D"]},"legend":null}}},
    {"data":{"name":"points"},"transform":[{"filter":"datum.test == 't2'"}],"mark":{"type":"point","shape":"circle","filled":false,"size":22,"strokeWidth":1,"clip":true},
     "encoding":{"x":{"field":"N","type":"quantitative"},"y":{"field":"value","type":"quantitative"},"color":{"field":"version","type":"nominal","legend":null}}},
    {"data":{"name":"labels"},"transform":[{"filter":"datum.test == 't2' && datum.unit == 'seconds'"},{"fold":["tipN","boxN"],"as":["endN","px"]},{"fold":["tipY","boxY"],"as":["endY","py"]},{"filter":"(datum.endN == 'tipN' && datum.endY == 'tipY') || (datum.endN == 'boxN' && datum.endY == 'boxY')"}],
     "mark":{"type":"trail","clip":true},
     "encoding":{"x":{"field":"px","type":"quantitative"},"y":{"field":"py","type":"quantitative"},"size":{"field":"endN","type":"ordinal","scale":{"domain":["tipN","boxN"],"range":[0,17]},"legend":null},"color":{"field":"version","type":"nominal","legend":null},"detail":{"field":"version","type":"nominal"}}},
    {"data":{"name":"labels"},"transform":[{"filter":"datum.test == 't2' && datum.unit == 'seconds'"}],
     "mark":{"type":"rect","clip":true,"stroke":"#000000","strokeWidth":0.9,"xOffset":-8.5,"yOffset":-8.5,"y2Offset":8.5,"x2Offset":{"expr":"min(115.5, 8.9*length(datum.version) - 4.4*length(replace(datum.version, regexp('[^-filrt.]','g'), '')) + 2.3*length(replace(datum.version, regexp('[^A-Z]','g'), '')) + 3.5*length(replace(datum.version, regexp('[^mw]','g'), '')) - 4.5)"}},
     "encoding":{"x":{"field":"boxN","type":"quantitative"},"x2":{"field":"boxN"},"y":{"field":"boxY","type":"quantitative"},"y2":{"field":"boxY"},"color":{"field":"version","type":"nominal","legend":null}}},
    {"data":{"name":"labels"},"transform":[{"filter":"datum.test == 't2' && datum.unit == 'seconds'"}],
     "mark":{"type":"text","clip":true,"align":"left","baseline":"middle","dx":-6.5,"fontSize":16,"limit":122,"ellipsis":"\u200b"},
     "encoding":{"x":{"field":"boxN","type":"quantitative"},"y":{"field":"boxY","type":"quantitative"},"text":{"field":"version"},"color":{"condition":{"test":"datum.version == 'Slow' || datum.version == 'Regression' || datum.version == 'Before'","value":"#000000"},"value":"#FFFFFF"}}}
   ]}
  ], "spacing": 7}
 ], "spacing": -1},
 {"vconcat": [
  {"width":368.5,"height":49,"data":{"name":"strips"},"transform":[{"filter":"datum.test == 't3'"}],"view":{"fill":"#D9D9D9","stroke":"#333333"},
   "layer":[
    {"mark":{"type":"rule","color":"#333333","strokeWidth":1},"encoding":{"y":{"datum":"T","type":"nominal","bandPosition":0,"scale":{"type":"band","domain":["P","T"],"paddingInner":0,"paddingOuter":0},"axis":null}}},
    {"mark":{"type":"text","fontSize":11.7,"color":"#1A1A1A"},"encoding":{"y":{"field":"level","type":"nominal","axis":null},"text":{"field":"strip"}}}
   ]},
  {"vconcat": [
   {"width":368.5,"height":344,"layer":[
    {"data":{"name":"timings"},"transform":[{"filter":"datum.test == 't3' && datum.unit == 'kilobytes'"}],"mark":{"type":"line","strokeWidth":1.1,"clip":true},
     "encoding":{"x":{"field":"N","type":"quantitative","scale":{"type":"log","domain":[5.92,531000],"nice":false},"axis":{"values":[10,31.623,100,316.23,1000,3162.3,10000,31623,100000,316228],"labels":false,"ticks":false,"title":null,"minExtent":0,"maxExtent":0}},
      "y":{"field":"median","type":"quantitative","scale":{"type":"log","domain":[0.2312,767400],"nice":false},"axis":{"values":[1,10,100,1000,10000,100000],"labels":false,"ticks":false,"title":null,"minExtent":0,"maxExtent":0}},
      "color":{"field":"version","type":"nominal","scale":{"domain":["HEAD=test-action","base=master","merge-base","CRAN=1.15.4","Before","Regression","Fixed","Slow","Fast"],"range":["#1B9E77","#D95F02","#7570B3","#E7298A","#66A61E","#E6AB02","#A6761D","#E6AB02","#A6761D"]},"legend":null}}},
    {"data":{"name":"labels"},"transform":[{"filter":"datum.test == 't3' && datum.unit == 'kilobytes'"},{"fold":["tipN","boxN"],"as":["endN","px"]},{"fold":["tipY","boxY"],"as":["endY","py"]},{"filter":"(datum.endN == 'tipN' && datum.endY == 'tipY') || (datum.endN == 'boxN' && datum.endY == 'boxY')"}],
     "mark":{"type":"trail","clip":true},
     "encoding":{"x":{"field":"px","type":"quantitative"},"y":{"field":"py","type":"quantitative"},"size":{"field":"endN","type":"ordinal","scale":{"domain":["tipN","boxN"],"range":[0,17]},"legend":null},"color":{"field":"version","type":"nominal","legend":null},"detail":{"field":"version","type":"nominal"}}},
    {"data":{"name":"labels"},"transform":[{"filter":"datum.test == 't3' && datum.unit == 'kilobytes'"}],
     "mark":{"type":"rect","clip":true,"stroke":"#000000","strokeWidth":0.9,"xOffset":-8.5,"yOffset":-8.5,"y2Offset":8.5,"x2Offset":{"expr":"min(115.5, 8.9*length(datum.version) - 4.4*length(replace(datum.version, regexp('[^-filrt.]','g'), '')) + 2.3*length(replace(datum.version, regexp('[^A-Z]','g'), '')) + 3.5*length(replace(datum.version, regexp('[^mw]','g'), '')) - 4.5)"}},
     "encoding":{"x":{"field":"boxN","type":"quantitative"},"x2":{"field":"boxN"},"y":{"field":"boxY","type":"quantitative"},"y2":{"field":"boxY"},"color":{"field":"version","type":"nominal","legend":null}}},
    {"data":{"name":"labels"},"transform":[{"filter":"datum.test == 't3' && datum.unit == 'kilobytes'"}],
     "mark":{"type":"text","clip":true,"align":"left","baseline":"middle","dx":-6.5,"fontSize":16,"limit":122,"ellipsis":"\u200b"},
     "encoding":{"x":{"field":"boxN","type":"quantitative"},"y":{"field":"boxY","type":"quantitative"},"text":{"field":"version"},"color":{"condition":{"test":"datum.version == 'Slow' || datum.version == 'Regression' || datum.version == 'Before'","value":"#000000"},"value":"#FFFFFF"}}}
   ]},
   {"width":368.5,"height":345,"layer":[
    {"data":{"values":[{}]},"mark":{"type":"rule","color":"#B3B3B3","strokeWidth":1.2},
     "encoding":{"y":{"datum":0.01,"type":"quantitative","scale":{"type":"log","domain":[0.000003565,0.1151],"nice":false},"axis":{"values":[0.00001,0.000031623,0.0001,0.00031623,0.001,0.0031623,0.01,0.031623,0.1],"labels":false,"ticks":false,"title":null,"minExtent":0,"maxExtent":0}}}},
    {"data":{"name":"timings"},"transform":[{"filter":"datum.test == 't3' && datum.unit == 'seconds'"}],"mark":{"type":"line","strokeWidth":1.1,"clip":true},
     "encoding":{"x":{"field":"N","type":"quantitative","scale":{"type":"log","domain":[5.92,531000],"nice":false},"axis":{"values":[10,31.623,100,316.23,1000,3162.3,10000,31623,100000,316228],"labelExpr":"abs(log(datum.value)/LN10 - round(log(datum.value)/LN10)) < 0.01 ? '1e+0' + round(log(datum.value)/LN10) : ''","tickOpacity":{"condition":{"test":"abs(log(datum.value)/LN10 - round(log(datum.value)/LN10)) < 0.01","value":1},"value":0},"title":null}},
      "y":{"field":"median","type":"quantitative"},
      "color":{"field":"version","type":"nominal","scale":{"domain":["HEAD=test-action","base=master","merge-base","CRAN=1.15.4","Before","Regression","Fixed","Slow","Fast"],"range":["#1B9E77","#D95F02","#7570B3","#E7298A","#66A61E","#E6AB02","#A6761D","#E6AB02","#A6761D"]},"legend":null}}},
    {"data":{"name":"points"},"transform":[{"filter":"datum.test == 't3'"}],"mark":{"type":"point","shape":"circle","filled":false,"size":22,"strokeWidth":1,"clip":true},
     "encoding":{"x":{"field":"N","type":"quantitative"},"y":{"field":"value","type":"quantitative"},"color":{"field":"version","type":"nominal","legend":null}}},
    {"data":{"name":"labels"},"transform":[{"filter":"datum.test == 't3' && datum.unit == 'seconds'"},{"fold":["tipN","boxN"],"as":["endN","px"]},{"fold":["tipY","boxY"],"as":["endY","py"]},{"filter":"(datum.endN == 'tipN' && datum.endY == 'tipY') || (datum.endN == 'boxN' && datum.endY == 'boxY')"}],
     "mark":{"type":"trail","clip":true},
     "encoding":{"x":{"field":"px","type":"quantitative"},"y":{"field":"py","type":"quantitative"},"size":{"field":"endN","type":"ordinal","scale":{"domain":["tipN","boxN"],"range":[0,17]},"legend":null},"color":{"field":"version","type":"nominal","legend":null},"detail":{"field":"version","type":"nominal"}}},
    {"data":{"name":"labels"},"transform":[{"filter":"datum.test == 't3' && datum.unit == 'seconds'"}],
     "mark":{"type":"rect","clip":true,"stroke":"#000000","strokeWidth":0.9,"xOffset":-8.5,"yOffset":-8.5,"y2Offset":8.5,"x2Offset":{"expr":"min(115.5, 8.9*length(datum.version) - 4.4*length(replace(datum.version, regexp('[^-filrt.]','g'), '')) + 2.3*length(replace(datum.version, regexp('[^A-Z]','g'), '')) + 3.5*length(replace(datum.version, regexp('[^mw]','g'), '')) - 4.5)"}},
     "encoding":{"x":{"field":"boxN","type":"quantitative"},"x2":{"field":"boxN"},"y":{"field":"boxY","type":"quantitative"},"y2":{"field":"boxY"},"color":{"field":"version","type":"nominal","legend":null}}},
    {"data":{"name":"labels"},"transform":[{"filter":"datum.test == 't3' && datum.unit == 'seconds'"}],
     "mark":{"type":"text","clip":true,"align":"left","baseline":"middle","dx":-6.5,"fontSize":16,"limit":122,"ellipsis":"\u200b"},
     "encoding":{"x":{"field":"boxN","type":"quantitative"},"y":{"field":"boxY","type":"quantitative"},"text":{"field":"version"},"color":{"condition":{"test":"datum.version == 'Slow' || datum.version == 'Regression' || datum.version == 'Before'","value":"#000000"},"value":"#FFFFFF"}}}
   ]}
  ], "spacing": 7}
 ], "spacing": -1}
 ], "spacing": 3.5},
 {"hconcat": [
 {"vconcat": [
  {"width":368.5,"height":49,"data":{"name":"strips"},"transform":[{"filter":"datum.test == 't4'"}],"view":{"fill":"#D9D9D9","stroke":"#333333"},
   "layer":[
    {"mark":{"type":"rule","color":"#333333","strokeWidth":1},"encoding":{"y":{"datum":"T","type":"nominal","bandPosition":0,"scale":{"type":"band","domain":["P","T"],"paddingInner":0,"paddingOuter":0},"axis":null}}},
    {"mark":{"type":"text","fontSize":11.7,"color":"#1A1A1A"},"encoding":{"y":{"field":"level","type":"nominal","axis":null},"text":{"field":"strip"}}}
   ]},
  {"vconcat": [
   {"width":368.5,"height":344,"layer":[
    {"data":{"name":"timings"},"transform":[{"filter":"datum.test == 't4' && datum.unit == 'kilobytes'"}],"mark":{"type":"line","strokeWidth":1.1,"clip":true},
     "encoding":{"x":{"field":"N","type":"quantitative","scale":{"type":"log","domain":[423.6,73300000000],"nice":false},"axis":{"values":[1000,10000,100000,1000000,10000000,100000000,1000000000,10000000000],"labels":false,"ticks":false,"title":null,"minExtent":0,"maxExtent":0}},
      "y":{"field":"median","type":"quantitative","scale":{"type":"log","domain":[0.2312,767400],"nice":false},"axis":{"values":[1,10,100,1000,10000,100000],"labels":false,"ticks":false,"title":null,"minExtent":0,"maxExtent":0}},
      "color":{"field":"version","type":"nominal","scale":{"domain":["HEAD=test-action","base=master","merge-base","CRAN=1.15.4","Before","Regression","Fixed","Slow","Fast"],"range":["#1B9E77","#D95F02","#7570B3","#E7298A","#66A61E","#E6AB02","#A6761D","#E6AB02","#A6761D"]},"legend":null}}},
    {"data":{"name":"labels"},"transform":[{"filter":"datum.test == 't4' && datum.unit == 'kilobytes'"},{"fold":["tipN","boxN"],"as":["endN","px"]},{"fold":["tipY","boxY"],"as":["endY","py"]},{"filter":"(datum.endN == 'tipN' && datum.endY == 'tipY') || (datum.endN == 'boxN' && datum.endY == 'boxY')"}],
     "mark":{"type":"trail","clip":true},
     "encoding":{"x":{"field":"px","type":"quantitative"},"y":{"field":"py","type":"quantitative"},"size":{"field":"endN","type":"ordinal","scale":{"domain":["tipN","boxN"],"range":[0,17]},"legend":null},"color":{"field":"version","type":"nominal","legend":null},"detail":{"field":"version","type":"nominal"}}},
    {"data":{"name":"labels"},"transform":[{"filter":"datum.test == 't4' && datum.unit == 'kilobytes'"}],
     "mark":{"type":"rect","clip":true,"stroke":"#000000","strokeWidth":0.9,"xOffset":-8.5,"yOffset":-8.5,"y2Offset":8.5,"x2Offset":{"expr":"min(115.5, 8.9*length(datum.version) - 4.4*length(replace(datum.version, regexp('[^-filrt.]','g'), '')) + 2.3*length(replace(datum.version, regexp('[^A-Z]','g'), '')) + 3.5*length(replace(datum.version, regexp('[^mw]','g'), '')) - 4.5)"}},
     "encoding":{"x":{"field":"boxN","type":"quantitative"},"x2":{"field":"boxN"},"y":{"field":"boxY","type":"quantitative"},"y2":{"field":"boxY"},"color":{"field":"version","type":"nominal","legend":null}}},
    {"data":{"name":"labels"},"transform":[{"filter":"datum.test == 't4' && datum.unit == 'kilobytes'"}],
     "mark":{"type":"text","clip":true,"align":"left","baseline":"middle","dx":-6.5,"fontSize":16,"limit":122,"ellipsis":"\u200b"},
     "encoding":{"x":{"field":"boxN","type":"quantitative"},"y":{"field":"boxY","type":"quantitative"},"text":{"field":"version"},"color":{"condition":{"test":"datum.version == 'Slow' || datum.version == 'Regression' || datum.version == 'Before'","value":"#000000"},"value":"#FFFFFF"}}}
   ]},
   {"width":368.5,"height":345,"layer":[
    {"data":{"name":"timings"},"transform":[{"filter":"datum.test == 't4' && datum.unit == 'seconds' && isValid(datum.q25)"}],"mark":{"type":"area","opacity":0.45,"clip":true},
     "encoding":{"x":{"field":"N","type":"quantitative","scale":{"type":"log","domain":[423.6,73300000000],"nice":false},"axis":{"values":[1000,10000,100000,1000000,10000000,100000000,1000000000,10000000000],"labelExpr":"round(log(datum.value)/LN10) % 2 == 0 ? (round(log(datum.value)/LN10) >= 10 ? '1e+' : '1e+0') + round(log(datum.value)/LN10) : ''","tickOpacity":{"condition":{"test":"round(log(datum.value)/LN10) % 2 == 0","value":1},"value":0},"title":null}},
      "y":{"field":"q25","type":"quantitative","scale":{"type":"log","domain":[0.000003565,0.1151],"nice":false},"axis":{"values":[0.00001,0.000031623,0.0001,0.00031623,0.001,0.0031623,0.01,0.031623,0.1],"labels":false,"ticks":false,"title":null,"minExtent":0,"maxExtent":0}},
      "y2":{"field":"q75"},
      "color":{"field":"version","type":"nominal","scale":{"domain":["HEAD=test-action","base=master","merge-base","CRAN=1.15.4","Before","Regression","Fixed","Slow","Fast"],"range":["#1B9E77","#D95F02","#7570B3","#E7298A","#66A61E","#E6AB02","#A6761D","#E6AB02","#A6761D"]},"legend":null}}},
    {"data":{"values":[{}]},"mark":{"type":"rule","color":"#B3B3B3","strokeWidth":1.2},"encoding":{"y":{"datum":0.01}}},
    {"data":{"name":"timings"},"transform":[{"filter":"datum.test == 't4' && datum.unit == 'seconds'"}],"mark":{"type":"line","strokeWidth":1.1,"clip":true},
     "encoding":{"x":{"field":"N","type":"quantitative"},"y":{"field":"median","type":"quantitative"},"color":{"field":"version","type":"nominal","legend":null}}},
    {"data":{"name":"points"},"transform":[{"filter":"datum.test == 't4'"}],"mark":{"type":"point","shape":"circle","filled":false,"size":22,"strokeWidth":1,"clip":true},
     "encoding":{"x":{"field":"N","type":"quantitative"},"y":{"field":"value","type":"quantitative"},"color":{"field":"version","type":"nominal","legend":null}}},
    {"data":{"name":"labels"},"transform":[{"filter":"datum.test == 't4' && datum.unit == 'seconds'"},{"fold":["tipN","boxN"],"as":["endN","px"]},{"fold":["tipY","boxY"],"as":["endY","py"]},{"filter":"(datum.endN == 'tipN' && datum.endY == 'tipY') || (datum.endN == 'boxN' && datum.endY == 'boxY')"}],
     "mark":{"type":"trail","clip":true},
     "encoding":{"x":{"field":"px","type":"quantitative"},"y":{"field":"py","type":"quantitative"},"size":{"field":"endN","type":"ordinal","scale":{"domain":["tipN","boxN"],"range":[0,17]},"legend":null},"color":{"field":"version","type":"nominal","legend":null},"detail":{"field":"version","type":"nominal"}}},
    {"data":{"name":"labels"},"transform":[{"filter":"datum.test == 't4' && datum.unit == 'seconds'"}],
     "mark":{"type":"rect","clip":true,"stroke":"#000000","strokeWidth":0.9,"xOffset":-8.5,"yOffset":-8.5,"y2Offset":8.5,"x2Offset":{"expr":"min(115.5, 8.9*length(datum.version) - 4.4*length(replace(datum.version, regexp('[^-filrt.]','g'), '')) + 2.3*length(replace(datum.version, regexp('[^A-Z]','g'), '')) + 3.5*length(replace(datum.version, regexp('[^mw]','g'), '')) - 4.5)"}},
     "encoding":{"x":{"field":"boxN","type":"quantitative"},"x2":{"field":"boxN"},"y":{"field":"boxY","type":"quantitative"},"y2":{"field":"boxY"},"color":{"field":"version","type":"nominal","legend":null}}},
    {"data":{"name":"labels"},"transform":[{"filter":"datum.test == 't4' && datum.unit == 'seconds'"}],
     "mark":{"type":"text","clip":true,"align":"left","baseline":"middle","dx":-6.5,"fontSize":16,"limit":122,"ellipsis":"\u200b"},
     "encoding":{"x":{"field":"boxN","type":"quantitative"},"y":{"field":"boxY","type":"quantitative"},"text":{"field":"version"},"color":{"condition":{"test":"datum.version == 'Slow' || datum.version == 'Regression' || datum.version == 'Before'","value":"#000000"},"value":"#FFFFFF"}}}
   ]}
  ], "spacing": 7}
 ], "spacing": -1},
 {"vconcat": [
  {"width":24,"height":49,"view":{"stroke":null},"data":{"values":[{"t":""}]},"mark":"text","encoding":{"text":{"field":"t"}}},
  {"vconcat": [
   {"width":24,"height":344,"data":{"values":[{"strip":"unit: kilobytes"}]},"view":{"fill":"#D9D9D9","stroke":"#333333"},"mark":{"type":"text","angle":90,"fontSize":11.7,"color":"#1A1A1A"},"encoding":{"text":{"field":"strip"}}},
   {"width":24,"height":345,"data":{"values":[{"strip":"unit: seconds"}]},"view":{"fill":"#D9D9D9","stroke":"#333333"},"mark":{"type":"text","angle":90,"fontSize":11.7,"color":"#1A1A1A"},"encoding":{"text":{"field":"strip"}}}
  ], "spacing": 7}
 ], "spacing": -0.5}
 ], "spacing": -1}
], "spacing": 4}
],
"config": {
 "font": "Liberation Sans",
 "view": {"stroke": "#333333", "strokeWidth": 1},
 "axis": {"domain": false, "grid": true, "gridColor": "#EBEBEB", "gridWidth": 1.07, "tickColor": "#333333", "tickSize": 3.7, "tickWidth": 1.07, "labelColor": "#4D4D4D", "labelFontSize": 11.7, "labelPadding": 2, "labelFlush": false, "labelOverlap": false, "titleFontSize": 14.7, "titleFontWeight": "normal", "titleColor": "#000000"},
 "text": {"font": "Liberation Sans"}
}
}
